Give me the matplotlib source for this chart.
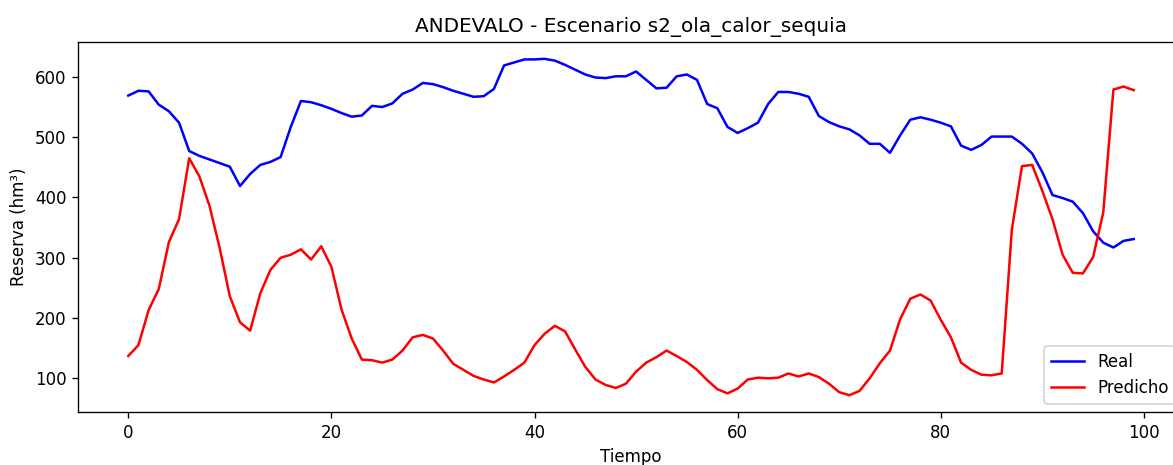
"""
ANDEVALO reservoir: real vs predicted storage, scenario s2_ola_calor_sequia
"""

import numpy as np
import matplotlib
matplotlib.use("Agg")
import matplotlib.pyplot as plt

EMBALSE = "ANDEVALO"
ESCENARIO = "s2_ola_calor_sequia"

# Reserva real (hm3), pasos 0..99
real = [569, 577, 576, 554, 543, 524, 477, 469, 463, 457,
        451, 419, 439, 454, 459, 467, 517, 560, 558, 553,
        547, 540, 534, 536, 552, 550, 556, 572, 579, 590,
        588, 583, 577, 572, 567, 568, 580, 619, 624, 629,
        629, 630, 627, 620, 612, 604, 599, 598, 601, 601,
        609, 595, 581, 582, 601, 604, 595, 555, 548, 517,
        507, 515, 524, 555, 575, 575, 572, 567, 535, 525,
        518, 513, 503, 489, 489, 474, 503, 529, 533, 529,
        524, 518, 486, 479, 487, 501, 501, 501, 489, 473,
        442, 404, 399, 393, 374, 344, 325, 317, 328, 331]

# Reserva predicha (hm3)
predicho = [137, 155, 213, 248, 326, 364, 465, 435, 386, 316,
            236, 193, 179, 241, 280, 300, 305, 314, 297, 319,
            285, 214, 166, 131, 130, 126, 131, 146, 168, 172,
            166, 146, 124, 114, 104, 98, 93, 103, 114, 126,
            155, 174, 187, 178, 148, 119, 98, 89, 84, 91,
            111, 126, 135, 146, 137, 127, 114, 97, 82, 75,
            83, 98, 101, 100, 101, 108, 103, 108, 102, 91,
            77, 72, 79, 100, 125, 146, 198, 232, 239, 229,
            197, 168, 126, 114, 106, 105, 108, 347, 452, 454,
            411, 364, 305, 275, 274, 301, 375, 579, 584, 578]

tiempo = np.arange(len(real))

DPI = 120
fig = plt.figure(figsize=(1173 / DPI, 465 / DPI), dpi=DPI)
# axes run slightly past the right edge, as in the original screenshot
ax = fig.add_axes([78 / 1173, 53 / 465, 1106 / 1173, 370 / 465])

ax.plot(tiempo, real, color='blue', label='Real')
ax.plot(tiempo, predicho, color='red', label='Predicho')

ax.set_title(f'{EMBALSE} - Escenario {ESCENARIO}', fontsize=12)
ax.set_xlabel('Tiempo')
ax.set_ylabel('Reserva (hm³)')
ax.legend(loc='lower right')

fig.savefig('out.png', dpi=DPI)
